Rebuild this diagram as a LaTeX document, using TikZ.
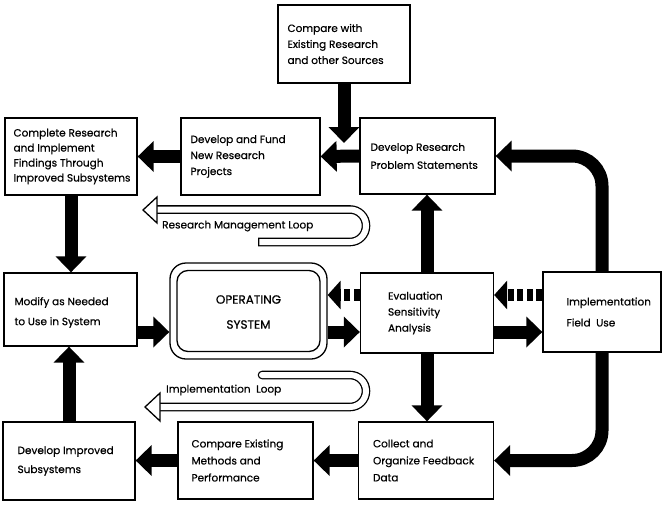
\documentclass[tikz,border=0pt]{standalone}
\usepackage{fontspec}
\setmainfont{Poppins}[FakeBold=0.5]
\usetikzlibrary{arrows.meta}
\begin{document}
\begin{tikzpicture}[x=1pt,y=-1pt,
  box/.style={draw, line width=1.3pt, rectangle, inner sep=0pt},
  txt/.style={anchor=west, align=left, inner sep=0pt, font=\fontsize{10.5}{16}\selectfont},
  blk/.style={line width=13pt, -{Triangle[length=16pt,width=30pt]}},
  dblk/.style={line width=12pt, dash pattern=on 6pt off 3.5pt, -{Triangle[length=13pt,width=28pt]}},
  bandout/.style={line width=8.6pt, rounded corners=16pt},
  bandin/.style={white, line width=6pt, rounded corners=16pt},
  loophead/.style={line width=1.3pt, fill=white, line join=miter}]
\useasboundingbox (0,0) rectangle (662,504);
\fill[white] (0,0) rectangle (662,504);

% ---- boxes ----
\node[box, minimum width=132pt, minimum height=78pt] (cmp)    at (344,44)    {};
\node[box, minimum width=135pt, minimum height=76pt] (drps)   at (427.5,156) {};
\node[box, minimum width=139pt, minimum height=77pt] (fund)   at (250.5,156.5) {};
\node[box, minimum width=132pt, minimum height=77pt] (compl)  at (71,156.5)  {};
\node[box, minimum width=133pt, minimum height=73pt] (modify) at (70.5,309.5) {};
\node[box, minimum width=133pt, minimum height=80pt] (eval)   at (427,313)   {};
\node[box, minimum width=118pt, minimum height=80pt] (impl)   at (602,312)   {};
\node[box, minimum width=135pt, minimum height=77pt] (coll)   at (426,460.5) {};
\node[box, minimum width=135pt, minimum height=77pt] (cmpex)  at (245.5,460.5) {};
\node[box, minimum width=132pt, minimum height=78pt] (devimp) at (69,461)    {};

% operating system: double rounded frame
\node[box, rounded corners=16pt, minimum width=157pt, minimum height=96pt] (ops) at (248.5,311) {};
\node[box, rounded corners=11pt, minimum width=143pt, minimum height=81pt] (opsin) at (ops.center) {};
\node[txt, anchor=center, align=center, font=\fontsize{12}{25}\selectfont] (opsT) at ([yshift=-1pt]ops.center) {OPERATING\\SYSTEM};

% ---- box texts ----
\node[txt] (cmpT)    at ([xshift=10pt]cmp.west)    {Compare with\\Existing Research\\and other Sources};
\node[txt, font=\fontsize{10.5}{18}\selectfont] (drpsT) at ([xshift=11pt]drps.west) {Develop Research\\Problem Statements};
\node[txt] (fundT)   at ([xshift=10pt]fund.west)   {Develop and Fund\\New Research\\Projects};
\node[txt, font=\fontsize{10.5}{15}\selectfont] (complT) at ([xshift=9pt]compl.west) {Complete Research\\and Implement\\Findings Through\\Improved Subsystems};
\node[txt, font=\fontsize{10.5}{20}\selectfont] (modifyT) at ([xshift=11pt,yshift=-3pt]modify.west) {Modify as Needed\\to Use in System};
\node[txt] (evalT)   at ([xshift=28pt]eval.west)   {Evaluation\\Sensitivity\\Analysis};
\node[txt, font=\fontsize{10.5}{21}\selectfont] (implT) at ([xshift=24pt]impl.west) {Implementation\\Field\ \ Use};
\node[txt, font=\fontsize{10.5}{17}\selectfont] (collT) at ([xshift=15pt]coll.west) {Collect and\\Organize Feedback\\Data};
\node[txt, font=\fontsize{10.5}{17}\selectfont] (cmpexT) at ([xshift=14pt]cmpex.west) {Compare Existing\\Methods and\\Performance};
\node[txt, font=\fontsize{10.5}{19}\selectfont] (devimpT) at ([xshift=15pt]devimp.west) {Develop Improved\\Subsystems};

% ---- block arrows ----
\coordinate (cmpTip) at (344,143);
\coordinate (rowLo) at (0,332);
\coordinate (rowHi) at (0,295);
\draw[blk] (cmp.south) -- (cmpTip);
\draw[blk] (drps.west) -- (fund.east);
\draw[blk] (fund.west) -- (compl.east);
\draw[blk] (compl.south) -- (compl.south |- modify.north);
\draw[blk] (modify.east |- rowLo) -- (ops.west |- rowLo);
\draw[blk] (ops.east |- rowLo) -- (eval.west |- rowLo);
\draw[blk] (eval.east |- rowLo) -- (impl.west |- rowLo);
\draw[dblk] (eval.west |- rowHi) -- (ops.east |- rowHi);
\draw[dblk] (impl.west |- rowHi) -- (eval.east |- rowHi);
\draw[blk] (eval.north) -- (eval.north |- drps.south);
\draw[blk] (eval.south) -- (eval.south |- coll.north);
\draw[blk, rounded corners=30pt] (impl.north) |- (drps.east);
\draw[blk, rounded corners=30pt] (impl.south) |- (coll.east);
\draw[blk] (coll.west) -- (cmpex.east);
\draw[blk] (cmpex.west) -- (cmpex.west -| devimp.east);
\draw[blk] (devimp.north) -- (devimp.north |- modify.south);

% ---- research management loop ----
\coordinate (rmA) at (258,242);
\coordinate (rmB) at (366,242);
\coordinate (rmC) at (366,209.5);
\coordinate (rmD) at (157,209.5);
\draw[bandout] (rmA) -- (rmB) -- (rmC) -- (rmD);
\draw[bandin, shorten <=1.3pt] (rmA) -- (rmB) -- (rmC) -- (rmD);
\draw[loophead] (143,210) -- (157,197) -- (157,223) -- cycle;
\node[txt] (rmT) at (162,226) {Research Management Loop};

% ---- implementation loop ----
\coordinate (ilA) at (262,375);
\coordinate (ilB) at (366,375);
\coordinate (ilC) at (366,407);
\coordinate (ilD) at (160,407);
\draw[bandout, line cap=round] (ilA) -- (ilB) -- (ilC) -- (ilD);
\draw[bandin, line cap=round] (ilA) -- (ilB) -- (ilC) -- (ilD);
\draw[loophead] (145,407) -- (160,393) -- (160,421) -- cycle;
\node[txt] (ilT) at (166,390) {Implementation\ \ Loop};
\end{tikzpicture}
\end{document}
